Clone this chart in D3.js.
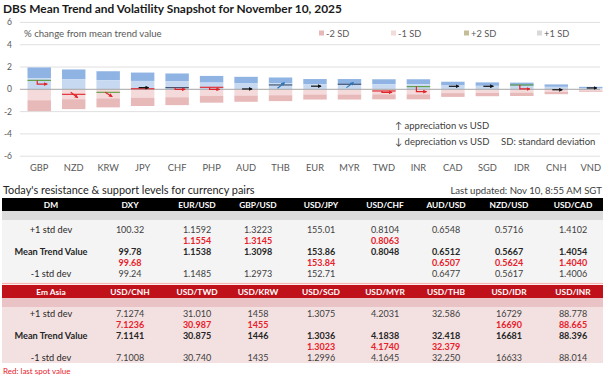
<!DOCTYPE html>
<html><head><meta charset="utf-8">
<script src="https://cdn.jsdelivr.net/npm/d3@7"></script>
<style>body{margin:0;background:#fff}svg{display:block}</style>
</head><body>
<svg id="c" width="605" height="378"></svg>
<script>
// ---- chart data ----
const currencies = ["GBP","NZD","KRW","JPY","CHF","PHP","AUD","THB","EUR","MYR","TWD","INR","CAD","SGD","IDR","CNH","VND"];
const sdValue = [0.98,0.89,0.81,0.75,0.71,0.60,0.56,0.53,0.46,0.46,0.45,0.45,0.34,0.31,0.30,0.22,0.11];
const prevLine = [0.80,-0.45,-0.27,0.05,0.15,0.18,null,0.39,null,0.45,-0.15,0.24,null,null,0.39,null,null];
const prevColor = ["g","r","g","r","n","r",null,"n",null,"n","r","g",null,null,"g",null,null];
const arrowFrom = [0.80,-0.27,-0.27,0.15,0.15,0.18,0.03,0.09,0.28,0.15,-0.15,0.24,0.27,0.27,0.39,-0.04,0.12];
const arrowTo   = [0.47,-0.75,-0.66,0.15,0.00,0.00,0.03,0.60,0.28,0.60,-0.27,-0.21,0.27,0.27,0.03,-0.04,0.12];
const arrowType = ["elbow","diag","diag","flat","elbow","elbow","flat","diag","flat","diag","elbow","elbow","flat","flat","elbow","flat","flat"];
const yTicks = [6,4,2,0,-2,-4,-6];
const legendLabels = ["-2 SD","-1 SD","+2 SD","+1 SD"];

// ---- table data ----
const dmCols = ["DXY","EUR/USD","GBP/USD","USD/JPY","USD/CHF","AUD/USD","NZD/USD","USD/CAD"];
const dmPlus1 = ["100.32","1.1592","1.3223","155.01","0.8104","0.6548","0.5716","1.4102"];
const dmMean  = ["99.78","1.1538","1.3098","153.86","0.8048","0.6512","0.5667","1.4054"];
const dmSpot  = ["99.68","1.1554","1.3145","153.84","0.8063","0.6507","0.5624","1.4040"];
const dmMinus1= ["99.24","1.1485","1.2973","152.71",null,"0.6477","0.5617","1.4006"];
const eaCols = ["USD/CNH","USD/TWD","USD/KRW","USD/SGD","USD/MYR","USD/THB","USD/IDR","USD/INR"];
const eaPlus1 = ["7.1274","31.010","1458","1.3075","4.2031","32.586","16729","88.778"];
const eaMean  = ["7.1141","30.875","1446","1.3036","4.1838","32.418","16681","88.396"];
const eaSpot  = ["7.1236","30.987","1455","1.3023","4.1740","32.379","16690","88.665"];
const eaMinus1= ["7.1008","30.740","1435","1.2996","4.1645","32.250","16633","88.014"];

const svg = d3.select("#c");
const F = "Lato, 'Open Sans', sans-serif";
const cols = {g:"#5c9b3e", r:"#e0242a", n:"#3b4a66"};

svg.append("text").attr("x",3).attr("y",12.5).attr("font-family",F).attr("font-weight","bold")
  .attr("font-size",11.9).attr("fill","#1a1a1a").text("DBS Mean Trend and Volatility Snapshot for November 10, 2025");

const x = d3.scaleBand().domain(currencies).range([22,608]).paddingInner(0.32).paddingOuter(0.16);
const y = d3.scaleLinear().domain([-6,6]).range([156.2,22.4]);

// grid
svg.append("g").selectAll("line").data(yTicks.filter(d=>d!==0)).join("line")
  .attr("x1",20).attr("x2",600).attr("y1",d=>y(d)).attr("y2",d=>y(d)).attr("stroke","#e0e0e0").attr("stroke-width",1);
svg.append("g").selectAll("text").data(yTicks).join("text")
  .attr("x",12).attr("y",d=>y(d)+3).attr("text-anchor","end").attr("font-family",F).attr("font-size",8.5)
  .attr("fill","#595959").text(d=>d);

// bars
const bars = svg.append("g");
currencies.forEach((c,i)=>{
  const s = sdValue[i], bx = x(c), bw = x.bandwidth();
  const bands = [[s,2*s,"#8fb4e3"],[0,s,"#c6d9f1"],[-s,0,"#f4dada"],[-2*s,-s,"#e8b9b9"]];
  bands.forEach(b=>bars.append("rect").attr("x",bx).attr("width",bw).attr("y",y(b[1])).attr("height",y(b[0])-y(b[1])).attr("fill",b[2]));
});
svg.append("line").attr("x1",20).attr("x2",600).attr("y1",y(0)).attr("y2",y(0)).attr("stroke","#a6a6a6").attr("stroke-width",1);

// markers
const defs = svg.append("defs");
[["ar","#e0242a"],["ak","#111"],["ab","#2e75b6"]].forEach(m=>{
  defs.append("marker").attr("id",m[0]).attr("viewBox","0 0 6 6").attr("refX",5).attr("refY",3)
   .attr("markerWidth",3.2).attr("markerHeight",3.2).attr("orient","auto")
   .append("path").attr("d","M0,0L6,3L0,6Z").attr("fill",m[1]);
});
const marks = svg.append("g");
currencies.forEach((c,i)=>{
  const bx = x(c), bw = x.bandwidth(), cx = bx+bw/2;
  if(prevLine[i]!==null){
    marks.append("line").attr("x1",bx).attr("x2",bx+bw).attr("y1",y(prevLine[i])).attr("y2",y(prevLine[i]))
      .attr("stroke",cols[prevColor[i]]).attr("stroke-width",1.1);
  }
  const t = arrowType[i];
  let d, col, mk;
  if(t==="elbow"){ d=`M${cx-2},${y(arrowFrom[i])}L${cx-2},${y(arrowTo[i])}L${cx+8},${y(arrowTo[i])}`; col="#e0242a"; mk="ar"; }
  else if(t==="flat"){ d=`M${cx-4},${y(arrowTo[i])}L${cx+6},${y(arrowTo[i])}`; col="#111"; mk="ak"; }
  else { const up = arrowTo[i]>arrowFrom[i]; d=`M${cx-3},${y(arrowFrom[i])}L${cx+4},${y(arrowTo[i])}`; col=up?"#2e75b6":"#e0242a"; mk=up?"ab":"ar"; }
  marks.append("path").attr("d",d).attr("fill","none").attr("stroke",col).attr("stroke-width",1.2).attr("marker-end",`url(#${mk})`);
});

// x labels
svg.append("g").selectAll("text").data(currencies).join("text")
  .attr("x",d=>x(d)+x.bandwidth()/2).attr("y",170.5).attr("text-anchor","middle").attr("font-family",F)
  .attr("font-size",9.3).attr("fill","#595959").text(d=>d);

// legend & notes
svg.append("text").attr("x",24).attr("y",36.5).attr("font-family",F).attr("font-size",9.6).attr("fill","#595959").text("% change from mean trend value");
const legCol = ["#e6b9b8","#f2dcdb","#c4bd97","#d9d9d9"];
const legX = [319,391,464,537];
legendLabels.forEach((l,i)=>{
  svg.append("rect").attr("x",legX[i]).attr("y",30.5).attr("width",5).attr("height",5).attr("fill",legCol[i]);
  svg.append("text").attr("x",legX[i]+7).attr("y",36.5).attr("font-family",F).attr("font-size",9.3).attr("fill","#595959").text(l);
});
svg.append("text").attr("x",395).attr("y",129).attr("font-family",F).attr("font-size",9.5).attr("fill","#404040").text("↑ appreciation vs USD");
svg.append("text").attr("x",395).attr("y",145).attr("font-family",F).attr("font-size",9.5).attr("fill","#404040").text("↓ depreciation vs USD");
svg.append("text").attr("x",501).attr("y",145).attr("font-family",F).attr("font-size",9.5).attr("fill","#404040").text("SD: standard deviation");

// ---- tables ----
svg.append("text").attr("x",3).attr("y",193.5).attr("font-family",F).attr("font-size",10.9).attr("fill","#262626")
  .text("Today's resistance & support levels for currency pairs");
svg.append("text").attr("x",602).attr("y",194).attr("text-anchor","end").attr("font-family",F).attr("font-size",9.6).attr("fill","#404040")
  .text("Last updated: Nov 10, 8:55 AM SGT");

const colX = [51,130,197,258,321,385,446,509,573];
const TX0 = 2, TX1 = 603;
function table(top, title, cNames, plus1, mean, spot, minus1, st){
  svg.append("rect").attr("x",TX0).attr("y",top).attr("width",TX1-TX0).attr("height",13).attr("fill",st.head);
  svg.append("rect").attr("x",TX0).attr("y",top+13).attr("width",TX1-TX0).attr("height",9).attr("fill",st.gap);
  svg.append("rect").attr("x",TX0).attr("y",top+22).attr("width",TX1-TX0).attr("height",st.bodyH).attr("fill",st.body);
  [title].concat(cNames).forEach((h,i)=>svg.append("text").attr("x",colX[i]).attr("y",top+9.8).attr("text-anchor","middle")
     .attr("font-family",F).attr("font-weight","bold").attr("font-size",8.4).attr("fill","#fff").text(h));
  const rows = st.rows; // y baselines
  const lab = [["+1 std dev",rows[0],"normal"],["Mean Trend Value",rows[2],"bold"],["-1 std dev",rows[4],"normal"]];
  lab.forEach(l=>svg.append("text").attr("x",colX[0]).attr("y",l[1]).attr("text-anchor","middle").attr("font-family",F)
     .attr("font-weight",l[2]).attr("font-size",9.2).attr("fill","#262626").text(l[0]));
  cNames.forEach((c,i)=>{
    const cx = colX[i+1];
    const put=(v,yy,w,fill)=>{ if(v!==null) svg.append("text").attr("x",cx).attr("y",yy).attr("text-anchor","middle")
       .attr("font-family",F).attr("font-weight",w).attr("font-size",9).attr("fill",fill).text(v); };
    put(plus1[i],rows[0],"normal","#404040");
    put(mean[i],rows[2],"bold","#262626");
    put(minus1[i],rows[4],"normal","#404040");
    const above = parseFloat(spot[i])>parseFloat(mean[i]);
    put(spot[i], above?rows[1]:rows[3],"bold","#e8202a");
  });
}
table(198,"DM",dmCols,dmPlus1,dmMean,dmSpot,dmMinus1,{head:"#000",gap:"#dcdcdc",body:"#f4f4f4",bodyH:62,rows:[232.5,243.5,254.5,265.5,276.5]});
svg.append("line").attr("x1",TX0).attr("x2",TX1).attr("y1",283.5).attr("y2",283.5).attr("stroke","#f3b3b3").attr("stroke-width",1.5);
table(285,"Em Asia",eaCols,eaPlus1,eaMean,eaSpot,eaMinus1,{head:"#c0111b",gap:"#e9c3c5",body:"#f3e0e0",bodyH:56,rows:[316.5,327.5,338.5,350,361]});
svg.append("text").attr("x",3).attr("y",373.5).attr("font-family",F).attr("font-size",8).attr("fill","#e8202a").text("Red: last spot value");
</script>
</body></html>
